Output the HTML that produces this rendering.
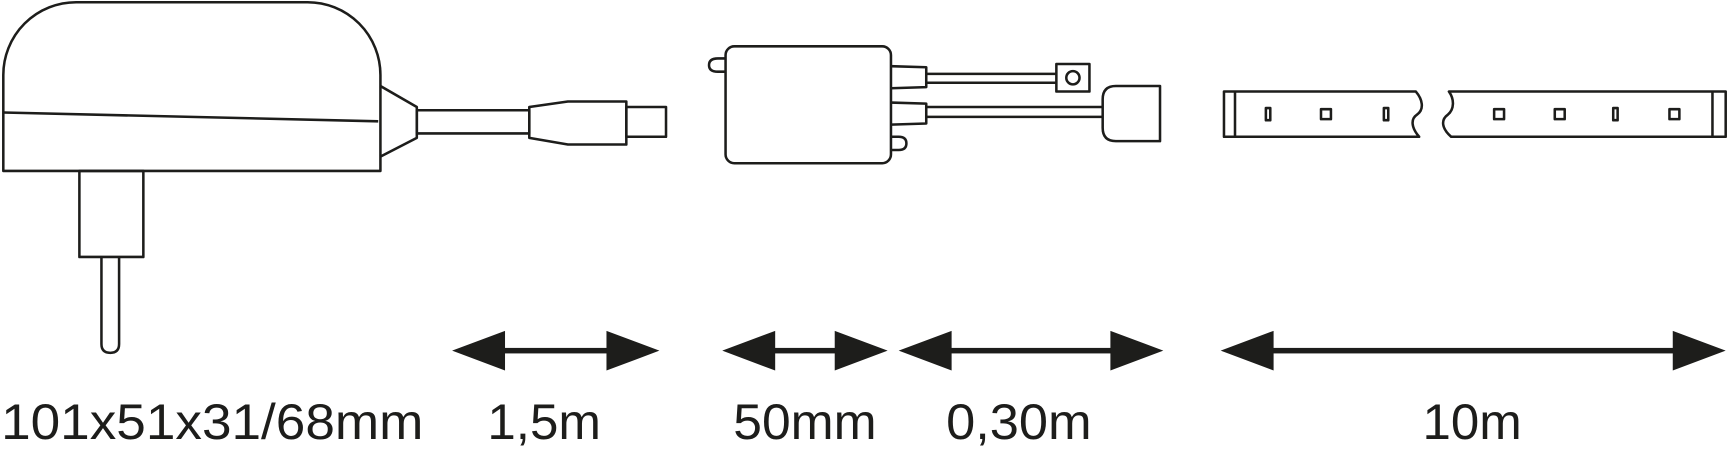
<!DOCTYPE html>
<html><head><meta charset="utf-8"><style>
html,body{margin:0;padding:0;background:#fff;}
svg{display:block;}
text{font-family:"Liberation Sans",sans-serif;font-size:45px;fill:#1d1d1b;}
</style></head><body>
<svg width="1729" height="454" viewBox="0 0 1568 411.7" xmlns="http://www.w3.org/2000/svg">
<g fill="none" stroke="#1d1d1b" stroke-width="2.3" stroke-linejoin="round">
<!-- adapter -->
<path d="M3,155 V68 A66,66 0 0 1 69,2 H279 A66,66 0 0 1 345,68 V155 Z" fill="#fff"/>
<path d="M3,102 L343,110"/>
<path d="M345,78 L378,97 V125 L345,142"/>
<rect x="378" y="100" width="102" height="21"/>
<path d="M480,97 L515,92 H568 V131 H515 L480,125 Z"/>
<rect x="568" y="97" width="36" height="27"/>
<rect x="72" y="155" width="58" height="78"/>
<path d="M92,233 V312 Q92,320 100,320 Q108,320 108,312 V233"/>
<!-- controller -->
<path d="M658,53 H651 Q643,53 643,59 Q643,65 651,65 H658"/>
<rect x="658" y="42" width="150" height="106" rx="8"/>
<path d="M808,60 L840,61 V79 L808,80"/>
<path d="M840,67 H958 M840,75 H958"/>
<rect x="958" y="58" width="30" height="25"/>
<circle cx="973" cy="70.5" r="6"/>
<path d="M808,93 L840,94 V112 L808,113"/>
<path d="M840,97 H1000 M840,106 H1000"/>
<path d="M1052,78 H1012 Q1000,78 1000,90 V116 Q1000,128 1012,128 H1052 Z"/>
<path d="M808,124 H815 Q822,124 822,130 Q822,136 815,136 H808"/>
<!-- strip -->
<path d="M1284,83 H1110 V124 H1287 C1280,116 1279,108 1285,104 C1292,99 1290,90 1284,83 Z"/>
<path d="M1120,83 V124"/>
<path d="M1314,83 H1565 V124 H1316 C1308,117 1306,109 1313,104 C1319,99 1319,90 1314,83 Z"/>
<path d="M1553,83 V124"/>
<rect x="1148" y="98" width="4" height="11"/>
<rect x="1198" y="99" width="9" height="9"/>
<rect x="1255" y="98" width="4" height="11"/>
<rect x="1355" y="99" width="9" height="9"/>
<rect x="1410" y="99" width="9" height="9"/>
<rect x="1463" y="98" width="4" height="11"/>
<rect x="1514" y="99" width="9" height="9"/>
</g>
<!-- arrows -->
<g fill="#1d1d1b">
<rect x="455" y="315.5" width="100" height="5"/>
<path d="M410,318 L458,300 V336 Z M598,318 L550,300 V336 Z"/>
<rect x="700" y="315.5" width="60" height="5"/>
<path d="M655,318 L703,300 V336 Z M805,318 L757,300 V336 Z"/>
<rect x="860" y="315.5" width="150" height="5"/>
<path d="M815,318 L863,300 V336 Z M1055,318 L1007,300 V336 Z"/>
<rect x="1152" y="315.5" width="370" height="5"/>
<path d="M1107,318 L1155,300 V336 Z M1565,318 L1517,300 V336 Z"/>
</g>
<text x="1" y="398" textLength="383" lengthAdjust="spacingAndGlyphs">101x51x31/68mm</text>
<text x="442" y="398" textLength="103" lengthAdjust="spacingAndGlyphs">1,5m</text>
<text x="665" y="398" textLength="130" lengthAdjust="spacingAndGlyphs">50mm</text>
<text x="858" y="398" textLength="132" lengthAdjust="spacingAndGlyphs">0,30m</text>
<text x="1290" y="398" textLength="90" lengthAdjust="spacingAndGlyphs">10m</text>
</svg>
</body></html>
